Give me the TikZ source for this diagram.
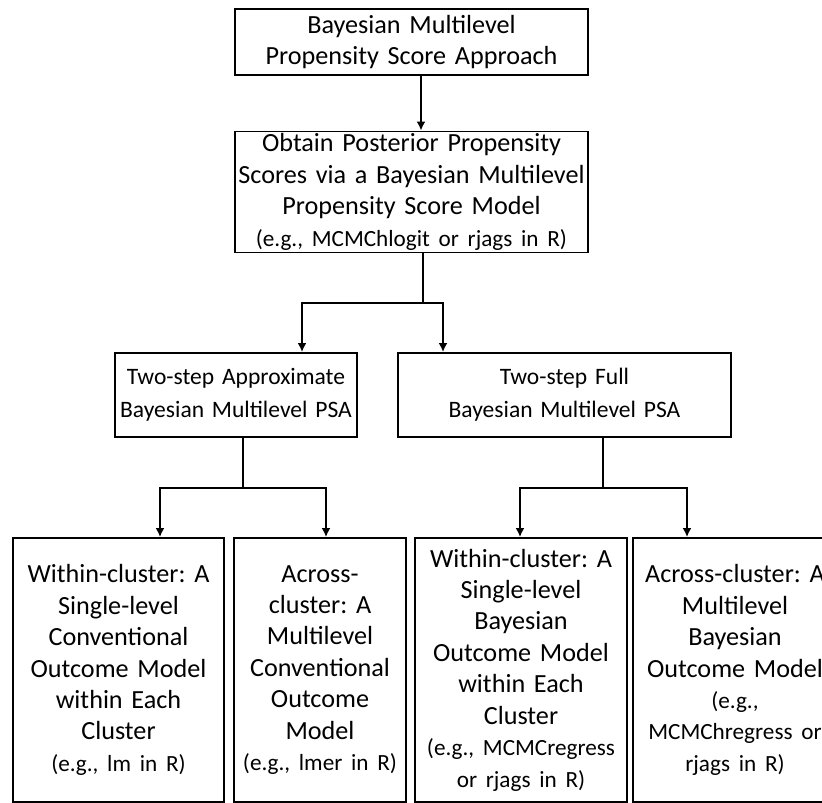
\documentclass[tikz,border=0pt]{standalone}
\usepackage{fontspec}
\setmainfont{Carlito}[WordSpace=0.85]
\usetikzlibrary{arrows.meta}
\frenchspacing
\newcommand{\egnote}[1]{{\fontsize{13.2}{18}\selectfont #1}}

\begin{document}
\begin{tikzpicture}
		[	x=0.02cm,y=-0.02cm,
		box/.style={rectangle,draw=black,line width=1.1pt,align=center,inner sep=0pt,font=\fontsize{14.9}{17.9}\selectfont},
		midbox/.style={box,font=\fontsize{13.4}{18.8}\selectfont},
		link/.style={draw=black,line width=1.1pt},
		arr/.style={link,-{Latex[length=1.8mm,width=1.8mm]}}
		]
		\useasboundingbox (0,0) rectangle (822,803);
		\clip (0,0) rectangle (822,803);
		\node[box,text width=7.06cm,minimum height=1.32cm] (approach) at (411.5,42){Bayesian Multilevel\\Propensity Score Approach};
		\node[box,text width=7.06cm,minimum height=2.42cm] (obtain) at (411.5,192){Obtain Posterior Propensity\\Scores via a Bayesian Multilevel\\Propensity Score Model\\\egnote{(e.g., MCMChlogit or rjags in R)}};
		\node[midbox,text width=4.84cm,minimum height=1.68cm] (approx) at (236,395){Two-step Approximate\\Bayesian Multilevel PSA};
		\node[midbox,text width=6.66cm,minimum height=1.68cm] (full) at (564.5,395){Two-step Full\\Bayesian Multilevel PSA};
		\node[box,text width=4.22cm,minimum height=5.28cm] (withinconv) at (118.5,670){Within-cluster: A\\Single-level\\Conventional\\Outcome Model\\within Each\\Cluster\\\egnote{(e.g., lm in R)}};
		\node[box,text width=3.44cm,minimum height=5.28cm] (acrossconv) at (320,670){Across-\\cluster: A\\Multilevel\\Conventional\\Outcome\\Model\\\egnote{(e.g., lmer in R)}};
		\node[box,text width=4.24cm,minimum height=5.28cm] (withinbayes) at (521,670){Within-cluster: A\\Single-level\\Bayesian\\Outcome Model\\within Each\\Cluster\\\egnote{(e.g., MCMCregress}\\\egnote{or rjags in R)}};
		\node[box,text width=4.08cm,minimum height=5.28cm] (acrossbayes) at (735,670){Across-cluster: A\\Multilevel\\Bayesian\\Outcome Model\\\egnote{(e.g.,}\\\egnote{MCMChregress or}\\\egnote{rjags in R)}};
\coordinate (j1) at (423,303);
\coordinate (j1l) at (302,303);
\coordinate (j1r) at (443,303);
\coordinate (j2) at (243,488);
\coordinate (j2l) at (160,488);
\coordinate (j2r) at (326,488);
\coordinate (j3) at (603,488);
\coordinate (j3l) at (520,488);
\coordinate (j3r) at (687,488);
		\draw[arr] ([xshift=.19cm]approach.south) -- ([xshift=.19cm]obtain.north);
		\draw[link] (obtain.south -| j1) -- (j1);
		\draw[arr] (j1) -| (approx.north -| j1l);
		\draw[arr] (j1) -| (full.north -| j1r);
		\draw[link] (approx.south -| j2) -- (j2);
		\draw[arr] (j2) -| (withinconv.north -| j2l);
		\draw[arr] (j2) -| (acrossconv.north -| j2r);
		\draw[link] (full.south -| j3) -- (j3);
		\draw[arr] (j3) -| (withinbayes.north -| j3l);
		\draw[arr] (j3) -| (acrossbayes.north -| j3r);
	\end{tikzpicture}
\end{document}
